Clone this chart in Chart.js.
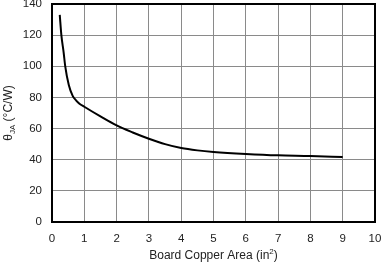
<!DOCTYPE html>
<html><head><meta charset="utf-8">
<script src="https://cdn.jsdelivr.net/npm/chart.js@4/dist/chart.umd.min.js"></script>
<style>html,body{margin:0;padding:0;background:#fff}#wrap{width:381px;height:263px}</style>
</head><body><div id="wrap"><canvas id="c"></canvas></div>
<script>
const areaX = [0.24,0.29,0.36,0.41,0.52,0.64,0.75,0.85,1,1.5,2,2.5,3,3.5,4,4.5,5,6,7,8,9];
const thetaJA = [133,120,109,100,88,81,78,76,74,67.8,62,57.5,53.5,50,47.5,46,45,43.7,42.8,42.4,41.7];
const xTicks = [0,1,2,3,4,5,6,7,8,9,10];
const yTicks = [0,20,40,60,80,100,120,140];
const xTitle = ['Board Copper Area (in', '2', ')'];
const yTitle = ['θ', 'JA', ' (°C/W)'];

const FONT = 'Liberation Sans, Arial, sans-serif';
const titles = {
  id: 'titles',
  afterDraw(chart) {
    const ctx = chart.ctx, a = chart.chartArea;
    ctx.save();
    ctx.fillStyle = '#222';
    const big = '12px ' + FONT, small = '8px ' + FONT;
    ctx.font = big; const w0 = ctx.measureText(xTitle[0]).width, w2 = ctx.measureText(xTitle[2]).width;
    ctx.font = small; const w1 = ctx.measureText(xTitle[1]).width;
    let x = (a.left + a.right) / 2 - (w0 + w1 + w2) / 2, y = 256;
    ctx.textBaseline = 'middle'; ctx.textAlign = 'left';
    ctx.font = big; ctx.fillText(xTitle[0], x, y); x += w0;
    ctx.font = small; ctx.fillText(xTitle[1], x, y - 4); x += w1;
    ctx.font = big; ctx.fillText(xTitle[2], x, y);
    ctx.translate(9, (a.top + a.bottom) / 2);
    ctx.rotate(-Math.PI / 2);
    ctx.font = big; const v0 = ctx.measureText(yTitle[0]).width, v2 = ctx.measureText(yTitle[2]).width;
    ctx.font = small; const v1 = ctx.measureText(yTitle[1]).width;
    x = -(v0 + v1 + v2) / 2;
    ctx.font = big; ctx.fillText(yTitle[0], x, 0); x += v0;
    ctx.font = small; ctx.fillText(yTitle[1], x, 4); x += v1;
    ctx.font = big; ctx.fillText(yTitle[2], x, 0);
    ctx.restore();
  }
};

new Chart(document.getElementById('c'), {
  type: 'scatter',
  data: { datasets: [{
    data: areaX.map((v, i) => ({x: v, y: thetaJA[i]})),
    showLine: true, borderColor: '#000', borderWidth: 2, pointRadius: 0, cubicInterpolationMode: 'monotone'
  }]},
  options: {
    responsive: true, maintainAspectRatio: false, animation: false,
    layout: { padding: { top: 4, right: 6, left: 0, bottom: 0 } },
    plugins: { legend: { display: false }, tooltip: { enabled: false } },
    scales: {
      x: {
        type: 'linear', min: 0, max: 10,
        afterBuildTicks(s) { s.ticks = xTicks.map(v => ({value: v})); },
        afterFit(s) { s.height = 41; s.paddingLeft = 0; s.paddingRight = 0; },
        grid: { color: '#8a8a8a', lineWidth: 1, drawTicks: false },
        border: { color: '#000', width: 2 },
        ticks: { color: '#222', font: { family: FONT, size: 11.5 }, padding: 10, maxRotation: 0 }
      },
      y: {
        min: 0, max: 140,
        afterBuildTicks(s) { s.ticks = yTicks.map(v => ({value: v})); },
        afterFit(s) { s.width = 52; s.paddingTop = 0; s.paddingBottom = 0; },
        grid: { color: '#8a8a8a', lineWidth: 1, drawTicks: false },
        border: { color: '#000', width: 2 },
        ticks: { color: '#222', font: { family: FONT, size: 11.5 }, padding: 10 }
      }
    }
  },
  plugins: [titles, {
    id: 'frame',
    afterDatasetsDraw(chart) {
      const ctx = chart.ctx, a = chart.chartArea;
      ctx.save(); ctx.strokeStyle = '#000'; ctx.lineWidth = 2;
      ctx.strokeRect(a.left, a.top, a.right - a.left, a.bottom - a.top);
      ctx.restore();
    }
  }]
});
</script></body></html>
